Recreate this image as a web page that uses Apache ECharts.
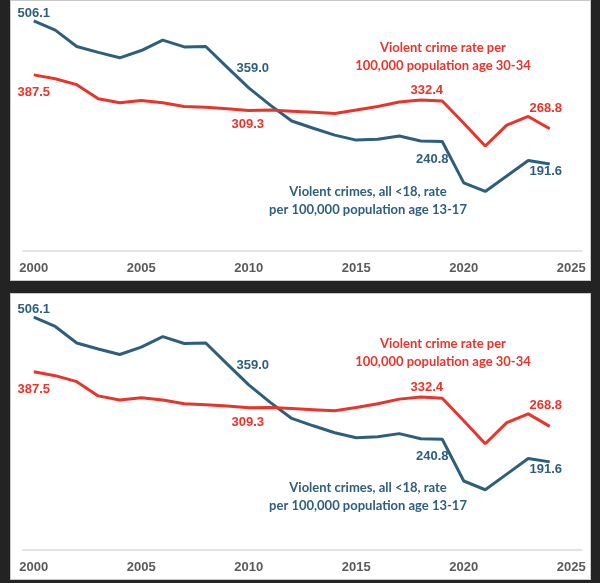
<!DOCTYPE html>
<html lang="en">

<head>
    <meta charset="UTF-8">
    <title>Violent crime rates</title>
    <script src="https://cdn.jsdelivr.net/npm/echarts@6.0.0/dist/echarts.min.js"></script>
    <style>
        html, body {
            margin: 0;
            padding: 0;
            background: #232323;
        }

        .panel {
            position: absolute;
            left: 10px;
            width: 581px;
            background: #fff;
            box-sizing: border-box;
            border: 1px solid #c8c8c8;
        }

        #top {
            top: 0;
            height: 281px;
        }

        #bottom {
            top: 293px;
            height: 287px;
        }
    </style>
</head>

<body>
    <div id="top" class="panel"></div>
    <div id="bottom" class="panel"></div>
    <script>
        const years = [2000, 2001, 2002, 2003, 2004, 2005, 2006, 2007, 2008, 2009,
            2010, 2011, 2012, 2013, 2014, 2015, 2016, 2017, 2018, 2019,
            2020, 2021, 2022, 2023, 2024];
        // Violent crimes, all <18, rate per 100,000 population age 13-17
        const juvenileRate = [506.1, 486, 450, 437, 425, 441, 464, 449, 450, 404,
            359.0, 321, 286, 270, 255, 244, 246, 253, 242, 240.8,
            150, 131, 165, 199, 191.6];
        // Violent crime rate per 100,000 population age 30-34
        const adultRate = [387.5, 379, 366, 335, 326, 331, 326, 318, 316, 313,
            309.3, 310, 307.5, 305, 302.5, 310, 318, 328, 332.4, 330,
            281, 231, 277, 296, 268.8];
        const xTicks = [2000, 2005, 2010, 2015, 2020, 2025];

        const BLUE = '#2e5e7e';
        const RED = '#e8352b';
        const FONT = 'Lato, "Liberation Sans", sans-serif';

        // which points get a value label, and where
        const juvenileLabels = {
            0: { position: 'top', distance: 1, offset: [0, 0] },
            10: { position: 'top', distance: 6, offset: [4, -7] },
            19: { position: 'bottom', distance: 11, offset: [-10, 0] },
            24: { position: 'bottom', distance: 1, offset: [-4, 0] }
        };
        const adultLabels = {
            0: { position: 'bottom', distance: 11, offset: [0, 0] },
            10: { position: 'bottom', distance: 8, offset: [-1, 0] },
            18: { position: 'top', distance: 3, offset: [6, 0] },
            24: { position: 'top', distance: 14, offset: [-4, 0] }
        };

        function buildData(values, labels, color) {
            return years.map(function (yr, i) {
                const item = { value: [yr, values[i]] };
                if (labels[i]) {
                    item.label = Object.assign({
                        show: true,
                        formatter: values[i].toFixed(1),
                        color: color,
                        fontFamily: '"Liberation Sans", Arial, sans-serif',
                        fontWeight: 'bold',
                        fontSize: 13
                    }, labels[i]);
                }
                return item;
            });
        }

        function buildOption(shift) {
            return {
                animation: false,
                grid: { left: 12, right: 8, top: shift, bottom: 29 },
                xAxis: {
                    type: 'value',
                    min: 1999.5,
                    max: 2025.5,
                    interval: 0.5,
                    axisLine: { lineStyle: { color: '#dcdcdc', width: 1.5 } },
                    axisTick: { show: false },
                    splitLine: { show: false },
                    axisLabel: {
                        margin: 11,
                        color: '#5a5a5a',
                        fontFamily: '"Liberation Sans", Arial, sans-serif',
                        fontWeight: 'bold',
                        fontSize: 13,
                        formatter: function (v) {
                            return xTicks.indexOf(v) >= 0 ? String(v) : '';
                        }
                    }
                },
                yAxis: {
                    type: 'value',
                    min: 0,
                    max: 550,
                    show: false
                },
                graphic: [
                    {
                        type: 'text',
                        x: 432,
                        y: 56 + shift,
                        style: {
                            text: 'Violent crime rate per\n100,000 population age 30-34',
                            align: 'center',
                            verticalAlign: 'middle',
                            lineHeight: 18,
                            fill: RED,
                            font: 'bold 13px ' + FONT
                        }
                    },
                    {
                        type: 'text',
                        x: 357,
                        y: 200 + shift,
                        style: {
                            text: 'Violent crimes, all <18, rate\nper 100,000 population age 13-17',
                            align: 'center',
                            verticalAlign: 'middle',
                            lineHeight: 18,
                            fill: BLUE,
                            font: 'bold 13px ' + FONT
                        }
                    }
                ],
                series: [
                    {
                        name: 'Juvenile',
                        type: 'line',
                        symbol: 'circle',
                        symbolSize: 0,
                        showSymbol: true,
                        itemStyle: { color: BLUE },
                        lineStyle: { color: BLUE, width: 3 },
                        data: buildData(juvenileRate, juvenileLabels, BLUE)
                    },
                    {
                        name: 'Adult 30-34',
                        type: 'line',
                        symbol: 'circle',
                        symbolSize: 0,
                        showSymbol: true,
                        itemStyle: { color: RED },
                        lineStyle: { color: RED, width: 3 },
                        data: buildData(adultRate, adultLabels, RED)
                    }
                ]
            };
        }

        const topChart = echarts.init(document.getElementById('top'));
        const bottomChart = echarts.init(document.getElementById('bottom'));
        topChart.setOption(buildOption(0));
        bottomChart.setOption(buildOption(3));
    </script>
</body>

</html>
